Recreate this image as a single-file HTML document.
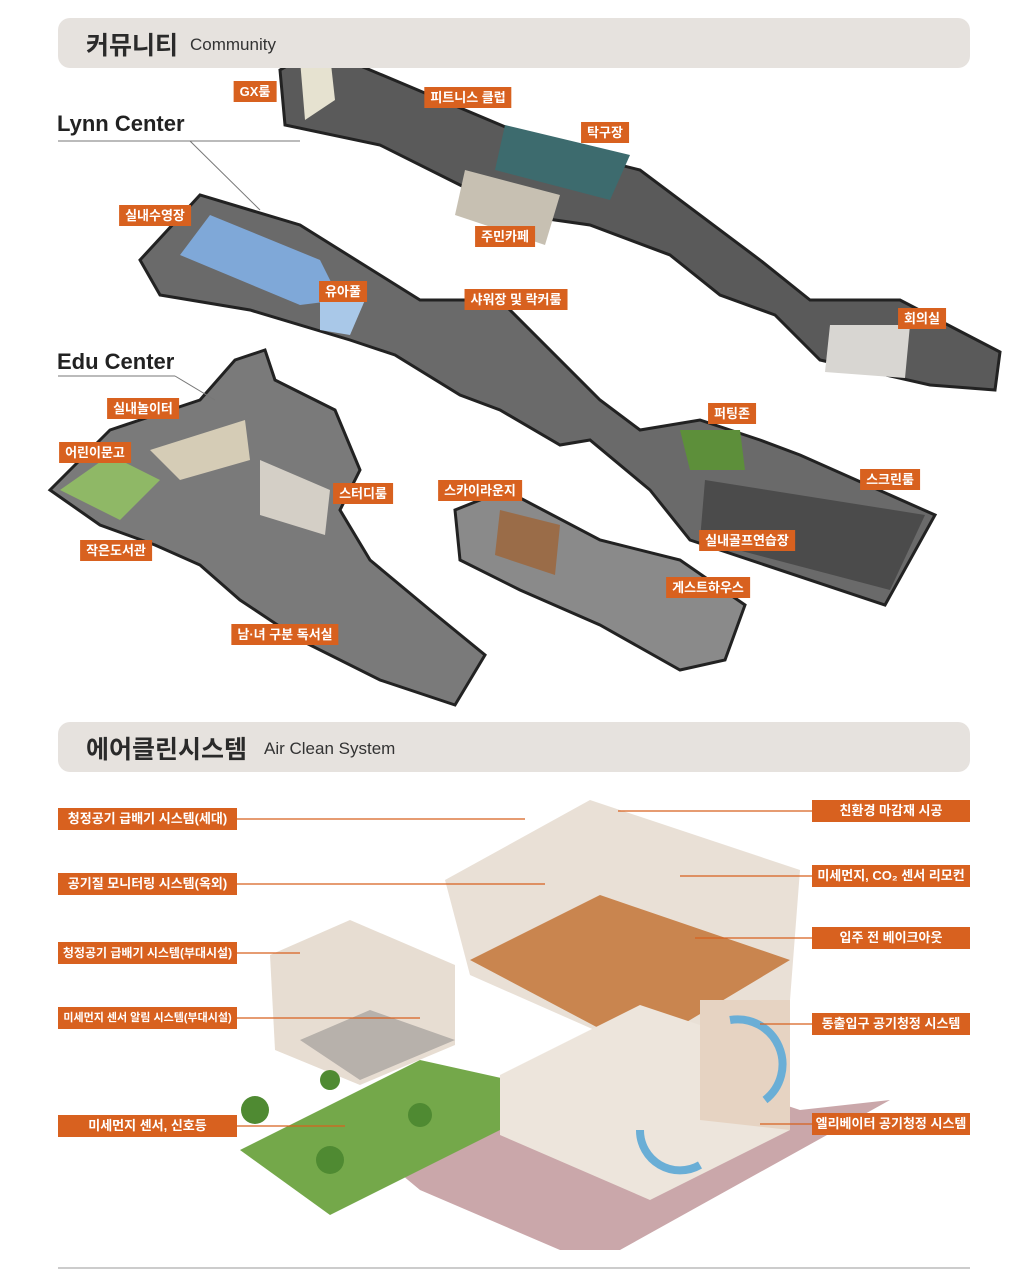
<!DOCTYPE html>
<html><head><meta charset="utf-8">
<style>
body{margin:0;width:1024px;height:1270px;background:#fff;position:relative;overflow:hidden;font-family:"Liberation Sans","Noto Sans CJK KR",sans-serif}
.bar{position:absolute;left:58px;width:912px;height:50px;background:#e6e2de;border-radius:12px}
.bar b{position:absolute;left:28px;top:8px;font-size:25px;color:#2a2a2a}
.bar span{position:absolute;top:17px;font-size:17px;color:#333}
.t{position:absolute;background:#d8611f;color:#fff;font-weight:bold;font-size:13px;height:21px;line-height:21px;padding:0 6px;white-space:nowrap;transform:translateX(-50%)}
.l{position:absolute;background:#d8611f;color:#fff;font-weight:bold;font-size:13px;height:22px;line-height:22px;text-align:center;white-space:nowrap;overflow:hidden;padding:0;display:flex;justify-content:center}
.h{position:absolute;font-weight:bold;font-size:22px;color:#222}
svg{position:absolute;left:0;top:0}
</style></head><body>
<svg width="1024" height="1270">
<polygon points="280,70 318,48 560,150 640,170 760,260 810,300 900,300 1000,352 995,390 930,385 820,360 775,315 720,295 670,255 590,225 520,215 470,190 380,145 285,125" fill="#5a5a5a" stroke="#222" stroke-width="3"/>
<polygon points="300,60 330,55 335,100 305,120" fill="#e6e2d0"/>
<polygon points="505,125 630,155 610,200 495,170" fill="#3d6b6e"/>
<polygon points="465,170 560,195 545,245 455,215" fill="#c7c0b2"/>
<polygon points="830,325 910,325 905,378 825,372" fill="#d8d6d2"/>
<polygon points="140,260 200,195 300,225 380,275 420,300 500,300 600,400 640,430 700,420 760,440 800,455 935,515 885,605 690,540 650,490 590,440 560,445 500,410 460,395 395,355 350,340 250,310 160,295" fill="#6a6a6a" stroke="#222" stroke-width="3"/>
<polygon points="180,255 210,215 320,260 340,300 300,305" fill="#7fa8d8"/>
<polygon points="320,300 365,300 350,335 320,330" fill="#a9c8e8"/>
<polygon points="680,430 740,430 745,470 690,470" fill="#5d8f3a"/>
<polygon points="705,480 925,515 890,590 700,540" fill="#4b4b4b"/>
<polygon points="50,490 110,430 200,400 235,360 265,350 275,380 335,410 360,470 340,510 370,560 430,610 485,655 455,705 380,680 300,640 240,600 200,565 155,545 100,525" fill="#7a7a7a" stroke="#222" stroke-width="3"/>
<polygon points="60,490 110,455 160,480 120,520" fill="#8fb866"/>
<polygon points="150,450 245,420 250,460 180,480" fill="#d5ccb6"/>
<polygon points="260,460 330,490 325,535 260,515" fill="#d4cfc6"/>
<polygon points="455,510 505,490 600,540 680,560 745,605 725,660 680,670 600,625 520,590 460,560" fill="#8a8a8a" stroke="#222" stroke-width="3"/>
<polygon points="500,510 560,525 555,575 495,555" fill="#9a6c48"/>
<line x1="58" y1="141" x2="300" y2="141" stroke="#777"/><line x1="190" y1="141" x2="260" y2="210" stroke="#777"/>
<line x1="58" y1="376" x2="175" y2="376" stroke="#777"/><line x1="175" y1="376" x2="215" y2="400" stroke="#777"/>
<polygon points="390,1165 620,1050 800,1110 890,1100 620,1250 560,1250 420,1190" fill="#caa7aa"/>
<polygon points="240,1150 420,1060 510,1080 520,1120 330,1215" fill="#74a84a"/>
<polygon points="270,955 350,920 455,965 455,1045 360,1085 275,1050" fill="#e7ddd2"/>
<polygon points="300,1040 370,1010 455,1040 360,1080" fill="#b7b1ab"/>
<polygon points="445,880 590,800 800,870 790,1000 640,1050 470,975" fill="#e9e0d6"/>
<polygon points="470,960 600,895 790,960 640,1050" fill="#c9854f"/>
<polygon points="500,1075 640,1005 790,1055 790,1130 650,1200 500,1135" fill="#ede5dc"/>
<polygon points="700,1000 790,1000 790,1130 700,1120" fill="#e6d3c2"/>
<g fill="#4f8a32"><circle cx="255" cy="1110" r="14"/><circle cx="330" cy="1160" r="14"/><circle cx="420" cy="1115" r="12"/><circle cx="330" cy="1080" r="10"/></g>
<path d="M730 1020 A45 45 0 0 1 765 1100" stroke="#6aaed6" stroke-width="8" fill="none"/>
<path d="M640 1130 A40 40 0 0 0 700 1165" stroke="#6aaed6" stroke-width="8" fill="none"/>
<g stroke="#d8611f" stroke-width="1.3" fill="none">
<line x1="237" y1="819" x2="525" y2="819"/><line x1="237" y1="884" x2="545" y2="884"/>
<line x1="237" y1="953" x2="300" y2="953"/><line x1="237" y1="1018" x2="420" y2="1018"/>
<line x1="237" y1="1126" x2="345" y2="1126"/>
<line x1="618" y1="811" x2="812" y2="811"/><line x1="680" y1="876" x2="812" y2="876"/>
<line x1="695" y1="938" x2="812" y2="938"/><line x1="760" y1="1024" x2="812" y2="1024"/>
<line x1="760" y1="1124" x2="812" y2="1124"/>
</g>
<line x1="58" y1="1268" x2="970" y2="1268" stroke="#999"/>
</svg>
<div class="bar" style="top:18px"><b>커뮤니티</b><span style="left:132px">Community</span></div>
<div class="bar" style="top:722px"><b>에어클린시스템</b><span style="left:206px">Air Clean System</span></div>
<div class="h" style="left:57px;top:111px">Lynn Center</div>
<div class="h" style="left:57px;top:349px">Edu Center</div>
<div class="t" style="left:255px;top:81px">GX룸</div>
<div class="t" style="left:468px;top:87px">피트니스 클럽</div>
<div class="t" style="left:605px;top:122px">탁구장</div>
<div class="t" style="left:155px;top:205px">실내수영장</div>
<div class="t" style="left:505px;top:226px">주민카페</div>
<div class="t" style="left:343px;top:281px">유아풀</div>
<div class="t" style="left:516px;top:289px">샤워장 및 락커룸</div>
<div class="t" style="left:922px;top:308px">회의실</div>
<div class="t" style="left:143px;top:398px">실내놀이터</div>
<div class="t" style="left:732px;top:403px">퍼팅존</div>
<div class="t" style="left:95px;top:442px">어린이문고</div>
<div class="t" style="left:890px;top:469px">스크린룸</div>
<div class="t" style="left:363px;top:483px">스터디룸</div>
<div class="t" style="left:480px;top:480px">스카이라운지</div>
<div class="t" style="left:116px;top:540px">작은도서관</div>
<div class="t" style="left:747px;top:530px">실내골프연습장</div>
<div class="t" style="left:708px;top:577px">게스트하우스</div>
<div class="t" style="left:285px;top:624px">남·녀 구분 독서실</div>
<div class="l" style="left:58px;top:808px;width:179px">청정공기 급배기 시스템(세대)</div>
<div class="l" style="left:58px;top:873px;width:179px">공기질 모니터링 시스템(옥외)</div>
<div class="l" style="left:58px;top:942px;width:179px;font-size:12px">청정공기 급배기 시스템(부대시설)</div>
<div class="l" style="left:58px;top:1007px;width:179px;font-size:11px">미세먼지 센서 알림 시스템(부대시설)</div>
<div class="l" style="left:58px;top:1115px;width:179px">미세먼지 센서, 신호등</div>
<div class="l" style="left:812px;top:800px;width:158px">친환경 마감재 시공</div>
<div class="l" style="left:812px;top:865px;width:158px">미세먼지, CO₂ 센서 리모컨</div>
<div class="l" style="left:812px;top:927px;width:158px">입주 전 베이크아웃</div>
<div class="l" style="left:812px;top:1013px;width:158px">동출입구 공기청정 시스템</div>
<div class="l" style="left:812px;top:1113px;width:158px">엘리베이터 공기청정 시스템</div>
</body></html>
